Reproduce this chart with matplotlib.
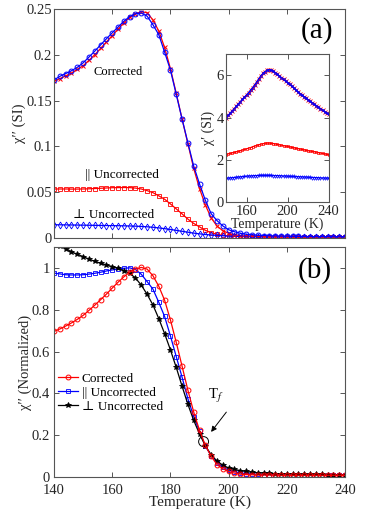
import matplotlib
matplotlib.use("Agg")
import matplotlib.pyplot as plt
from matplotlib.patches import Ellipse

plt.rcParams['font.family'] = ['Liberation Serif', 'DejaVu Serif']
plt.rcParams['mathtext.fontset'] = 'stix'

temps = [140, 142, 144, 146, 148, 150, 152, 154, 156, 158, 160, 162, 164, 166, 168, 170,
         172, 174, 176, 178, 180, 182, 184, 186, 188, 190, 192, 194, 196, 198, 200, 202,
         204, 206, 208, 210, 212, 214, 216, 218, 220, 222, 224, 226, 228, 230, 232, 234,
         236, 238, 240]

# panel (a): chi'' (SI)
a_corr_red = [0.171, 0.174, 0.177, 0.180, 0.184, 0.188, 0.194, 0.200, 0.207, 0.214, 0.221, 0.228,
              0.235, 0.241, 0.245, 0.247, 0.246, 0.238, 0.226, 0.208, 0.185, 0.158, 0.130, 0.103,
              0.076, 0.054, 0.036, 0.022, 0.013, 0.008, 0.005, 0.0035, 0.0025, 0.0020, 0.0017,
              0.0015, 0.0015, 0.0014, 0.0014, 0.0014, 0.0013, 0.0013, 0.0013, 0.0013, 0.0012,
              0.0012, 0.0012, 0.0012, 0.0012, 0.0012, 0.0012]
a_corr_blue = [0.1725, 0.1765, 0.1795, 0.1826, 0.1863, 0.1912, 0.1975, 0.2040, 0.2108, 0.2175,
               0.2240, 0.2303, 0.2366, 0.2418, 0.2448, 0.2456, 0.2422, 0.2328, 0.2220, 0.2030,
               0.1834, 0.1568, 0.1300, 0.1040, 0.0785, 0.0590, 0.0412, 0.0265, 0.0190, 0.0132,
               0.0090, 0.0068, 0.0052, 0.0042, 0.0035, 0.0030, 0.0027, 0.0024, 0.0022, 0.0020,
               0.0019, 0.0018, 0.0017, 0.0016, 0.0016, 0.0015, 0.0015, 0.0015, 0.0014, 0.0014,
               0.0014]
a_par_unc = [0.0535, 0.0535, 0.0535, 0.0534, 0.0534, 0.0535, 0.0537, 0.0540, 0.0543, 0.0546,
             0.0549, 0.0550, 0.0551, 0.0550, 0.0545, 0.0535, 0.0517, 0.0495, 0.0460, 0.0423,
             0.0372, 0.0318, 0.0263, 0.0206, 0.0159, 0.0121, 0.0084, 0.0058, 0.0040, 0.0029,
             0.0022, 0.0018, 0.0016, 0.0015, 0.0014, 0.0014, 0.0013, 0.0013, 0.0013, 0.0013,
             0.0013, 0.0013, 0.0012, 0.0012, 0.0012, 0.0012, 0.0012, 0.0012, 0.0012, 0.0012,
             0.0012]
a_perp_unc = [0.0145, 0.0144, 0.0143, 0.0142, 0.0141, 0.0140, 0.0139, 0.0138, 0.0137, 0.0136,
              0.0135, 0.0134, 0.0133, 0.0131, 0.0129, 0.0126, 0.0122, 0.0117, 0.0110, 0.0102,
              0.0093, 0.0083, 0.0073, 0.0063, 0.0053, 0.0045, 0.0038, 0.0033, 0.0028, 0.0024,
              0.0021, 0.0019, 0.0017, 0.0016, 0.0015, 0.0015, 0.0015, 0.0014, 0.0014, 0.0014,
              0.0014, 0.0013, 0.0013, 0.0013, 0.0013, 0.0013, 0.0013, 0.0013, 0.0013, 0.0013,
              0.0013]

# inset: chi' (SI)
in_par = [4.00, 4.10, 4.20, 4.31, 4.42, 4.53, 4.64, 4.75, 4.86, 4.97, 5.07, 5.18, 5.30, 5.42,
          5.55, 5.69, 5.84, 5.98, 6.09, 6.18, 6.24, 6.27, 6.25, 6.20, 6.13, 6.05, 5.97, 5.89,
          5.81, 5.73, 5.65, 5.57, 5.49, 5.40, 5.31, 5.22, 5.14, 5.06, 4.99, 4.92, 4.84, 4.77,
          4.70, 4.63, 4.56, 4.49, 4.42, 4.35, 4.28, 4.21, 4.15]
in_perp = [4.00, 4.10, 4.20, 4.31, 4.42, 4.53, 4.64, 4.75, 4.86, 4.97, 5.07, 5.18, 5.30, 5.42,
           5.55, 5.69, 5.84, 5.98, 6.09, 6.18, 6.24, 6.27, 6.25, 6.20, 6.13, 6.05, 5.97, 5.89,
           5.81, 5.73, 5.65, 5.57, 5.49, 5.40, 5.31, 5.22, 5.14, 5.06, 4.99, 4.92, 4.84, 4.77,
           4.70, 4.63, 4.56, 4.49, 4.42, 4.35, 4.28, 4.21, 4.15]
in_par_unc = [2.25, 2.28, 2.30, 2.33, 2.35, 2.38, 2.40, 2.43, 2.46, 2.49, 2.52, 2.55, 2.58, 2.62,
              2.65, 2.68, 2.71, 2.74, 2.76, 2.78, 2.79, 2.79, 2.78, 2.77, 2.75, 2.73, 2.71, 2.69,
              2.67, 2.65, 2.63, 2.61, 2.59, 2.57, 2.55, 2.53, 2.51, 2.49, 2.47, 2.45, 2.43, 2.41,
              2.40, 2.38, 2.36, 2.34, 2.32, 2.30, 2.28, 2.26, 2.24]
in_perp_unc = [1.12, 1.13, 1.14, 1.15, 1.16, 1.17, 1.18, 1.19, 1.20, 1.21, 1.22, 1.23, 1.23, 1.24,
               1.25, 1.25, 1.26, 1.26, 1.26, 1.26, 1.26, 1.26, 1.26, 1.25, 1.25, 1.25, 1.24, 1.24,
               1.23, 1.23, 1.22, 1.22, 1.21, 1.21, 1.20, 1.20, 1.19, 1.19, 1.18, 1.18, 1.17, 1.17,
               1.16, 1.16, 1.15, 1.15, 1.14, 1.14, 1.13, 1.13, 1.13]

# panel (b): normalized chi''
b_corr = [0.696, 0.708, 0.722, 0.737, 0.754, 0.773, 0.797, 0.822, 0.848, 0.875, 0.904, 0.932,
          0.958, 0.980, 0.995, 1.003, 0.995, 0.963, 0.913, 0.846, 0.752, 0.644, 0.530, 0.415,
          0.310, 0.222, 0.150, 0.098, 0.058, 0.038, 0.025, 0.017, 0.012, 0.010, 0.009, 0.008,
          0.008, 0.008, 0.008, 0.007, 0.007, 0.007, 0.007, 0.007, 0.007, 0.007, 0.007, 0.007,
          0.007, 0.007, 0.007]
b_par = [0.976, 0.972, 0.968, 0.967, 0.967, 0.968, 0.971, 0.975, 0.980, 0.986, 0.991, 0.995,
         0.999, 1.001, 0.993, 0.970, 0.935, 0.899, 0.836, 0.768, 0.675, 0.576, 0.477, 0.374,
         0.288, 0.218, 0.148, 0.100, 0.066, 0.045, 0.032, 0.024, 0.018, 0.015, 0.013, 0.011,
         0.010, 0.010, 0.009, 0.009, 0.009, 0.008, 0.008, 0.008, 0.008, 0.007, 0.007, 0.007,
         0.007, 0.007, 0.007]
b_perp = [1.125, 1.108, 1.093, 1.078, 1.066, 1.055, 1.043, 1.032, 1.023, 1.015, 1.007, 0.998,
          0.988, 0.975, 0.952, 0.918, 0.874, 0.823, 0.758, 0.686, 0.608, 0.524, 0.434, 0.347,
          0.270, 0.205, 0.148, 0.105, 0.075, 0.055, 0.042, 0.035, 0.029, 0.025, 0.021, 0.019,
          0.017, 0.016, 0.015, 0.014, 0.013, 0.013, 0.012, 0.012, 0.011, 0.011, 0.011, 0.010,
          0.010, 0.010, 0.010]

x_ticks = [140, 160, 180, 200, 220, 240]
a_yticks = [0, 0.05, 0.1, 0.15, 0.2, 0.25]
a_yticklabels = ['0', '0.05', '0.1', '0.15', '0.2', '0.25']
b_yticks = [0, 0.2, 0.4, 0.6, 0.8, 1.0]
b_yticklabels = ['0', '0.2', '0.4', '0.6', '0.8', '1']
in_xticks = [160, 200, 240]
in_yticks = [0, 2, 4, 6]

RED = '#ff0000'
BLUE = '#0000ff'
SPINE = '#555555'
TXT = '#262626'

fig = plt.figure(figsize=(3.74, 5.15), dpi=100)
axA = fig.add_axes([0.1444, 0.5379, 0.7781, 0.4446])
axB = fig.add_axes([0.1444, 0.0744, 0.7781, 0.4456])
axI = fig.add_axes([0.6043, 0.6078, 0.2746, 0.2868])


def style(ax, fs=10.5):
    for s in ax.spines.values():
        s.set_color(SPINE)
        s.set_linewidth(0.8)
    ax.tick_params(direction='in', top=True, right=True, length=3.5, width=0.7,
                   color=SPINE, labelsize=fs, labelcolor=TXT)
    ax.tick_params(axis='y', pad=1.5)
    ax.tick_params(axis='x', pad=4.5)


lw = 0.9
# Panel (a)
axA.plot(temps, a_par_unc, color=RED, marker='s', ms=3, mfc='none', mew=0.6, lw=lw)
axA.plot(temps, a_perp_unc, color=BLUE, marker='d', ms=3.5, mfc='none', mew=0.6, lw=lw)
axA.plot(temps, a_corr_red, color=RED, marker='x', ms=3.5, mew=0.7, lw=lw)
axA.plot(temps, a_corr_blue, color=BLUE, marker='o', ms=3.5, mfc='none', mew=0.7, lw=lw)
axA.set_xlim(140, 240)
axA.set_ylim(0, 0.25)
axA.set_xticks(x_ticks)
axA.set_xticklabels([])
axA.set_yticks(a_yticks)
axA.set_yticklabels(a_yticklabels)
style(axA)
axA.set_ylabel("χ′′ (SI)", fontsize=10.5, color=TXT, labelpad=0)
axA.text(230.3, 0.2265, "(a)", fontsize=21, ha='center', va='center', color='black')
axA.text(162, 0.1815, "Corrected", fontsize=9, ha='center', va='center', color='black')
axA.text(163.3, 0.0688, "|| Uncorrected", fontsize=9.5, ha='center', va='center', color='black')
axA.text(160.3, 0.025, "⊥ Uncorrected", fontsize=9.5, ha='center', va='center', color='black')

# Inset
axI.plot(temps, in_par_unc, color=RED, marker='s', ms=1.6, mfc='none', mew=0.5, lw=lw)
axI.plot(temps, in_perp_unc, color=BLUE, marker='d', ms=1.8, mfc='none', mew=0.5, lw=lw)
axI.plot(temps, in_par, color=RED, marker='x', ms=2.2, mew=0.6, lw=lw)
axI.plot(temps, in_perp, color=BLUE, marker='o', ms=1.6, mfc='none', mew=0.5, lw=lw)
axI.set_xlim(140, 240)
axI.set_ylim(0, 7)
axI.set_xticks(in_xticks)
axI.set_yticks(in_yticks)
style(axI, fs=10.5)
axI.tick_params(axis='x', pad=2)
axI.set_xlabel("Temperature (K)", fontsize=10, color=TXT, labelpad=0)
axI.set_ylabel("χ′ (SI)", fontsize=10, color=TXT, labelpad=1)

# Panel (b)
lb, = axB.plot(temps, b_par, color=BLUE, marker='s', ms=3, mfc='none', mew=0.6, lw=lw)
lk, = axB.plot(temps, b_perp, color='black', marker='*', ms=4, mew=0.6, lw=lw)
lr, = axB.plot(temps, b_corr, color=RED, marker='o', ms=3.5, mfc='none', mew=0.7, lw=lw)
axB.set_xlim(140, 240)
axB.set_ylim(0, 1.1)
axB.set_xticks(x_ticks)
axB.set_yticks(b_yticks)
axB.set_yticklabels(b_yticklabels)
style(axB)
axB.tick_params(axis='y', pad=3)
axB.tick_params(axis='x', pad=5.5)
axB.set_xlabel("Temperature (K)", fontsize=11, color=TXT, labelpad=-1)
axB.set_ylabel("χ′′ (Normalized)", fontsize=10.5, color=TXT, labelpad=0)
axB.text(229.7, 0.99, "(b)", fontsize=21, ha='center', va='center', color='black')
leg = axB.legend([lr, lb, lk], ["Corrected", "|| Uncorrected", "⊥ Uncorrected"],
                 loc='upper left', bbox_to_anchor=(0.01, 0.46), frameon=False,
                 fontsize=9.5, handlelength=1.5, handletextpad=0.3, labelspacing=0.15,
                 borderpad=0.1, borderaxespad=0)
for t in leg.get_texts():
    t.set_color('black')

# Tf annotation
circ = Ellipse((191.4, 0.168), width=3.4, height=0.048, fill=False, edgecolor='black', lw=0.7)
axB.add_patch(circ)
axB.annotate("", xy=(193.4, 0.204), xytext=(199.8, 0.32),
             arrowprops=dict(arrowstyle='-|>', color='black', lw=0.7, mutation_scale=8))
axB.text(195.5, 0.385, "T$_{f}$", fontsize=10.5, ha='center', va='center', color='black')

fig.savefig("out.png", dpi=100)
